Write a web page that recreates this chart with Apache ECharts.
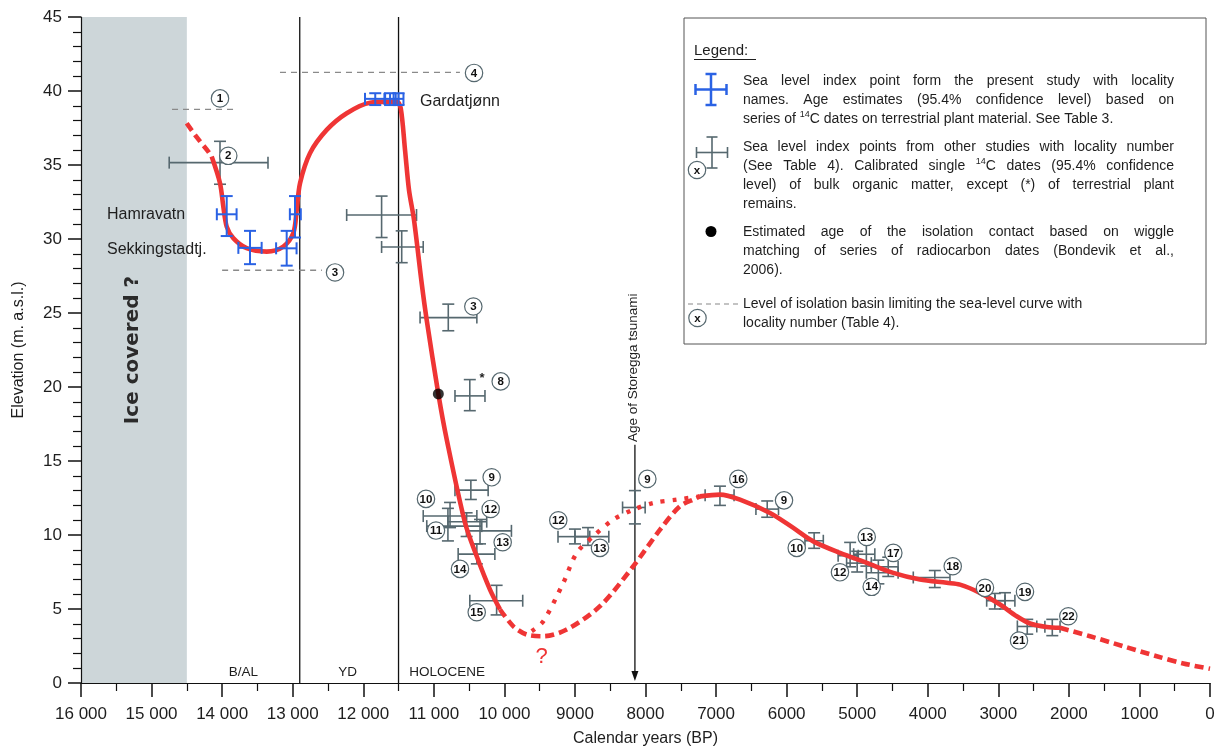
<!DOCTYPE html>
<html>
<head>
<meta charset="utf-8">
<title>Relative sea-level curve</title>
<script src="https://cdn.jsdelivr.net/npm/echarts@6.0.0/dist/echarts.min.js"></script>
<style>
html,body{margin:0;padding:0;background:#fff;}
#chart{width:1223px;height:752px;}
</style>
</head>
<body>
<div id="chart"></div>
<script>
// Axis ranges: calendar years BP (reversed) and elevation in m a.s.l.
const ageRange = [0, 16000];
const ageStep = 1000;
const elevRange = [0, 45];
const elevStep = 5;

// Chronozones
const iceCoveredAges = [16000, 14500];
const zoneBoundaries = [12900, 11500];
const zoneNames = ['B/AL', 'YD', 'HOLOCENE'];
const zoneNameAges = [13700, 12220, 10810];
const zoneNameElev = 0.75;

// Storegga tsunami marker
const storeggaAge = 8150;
const storeggaArrowTop = 16.1;

// Sea-level curve segments [age, elevation]
const curveStartDashed = [[14502,37.82],[14360,36.88],[14196,35.91],[14148,35.57]];
const curveLateglacial = [[14148,35.57],[14030,33.77],[13983,32.19],[13935,30.84],[13842,30.06],[13652,29.38],[13368,29.15],[13133,29.49],[12991,30.40],[12943,31.97],[12896,33.77],[12755,35.8],[12518,37.37],[12234,38.5],[11904,39.21],[11526,39.28],[11469,38.84],[11408,36.02],[11352,33.32],[11281,31.3],[11172,27.02],[11101,24.54],[10936,19.53],[10817,16.45],[10558,10.83],[10392,8.56],[10204,6.31],[10062,4.97]];
const curveLowstandDashed = [[10062,4.97],[9873,3.83],[9683,3.27],[9448,3.16],[9117,3.61],[8645,5.19],[8173,7.89],[7794,10.36],[7511,11.94],[7274,12.5],[7228,12.61]];
const curveLowstandDotted = [[9613,3.5],[9448,4.17],[9165,6.77],[8975,8.79],[8740,9.91],[8456,11.04],[8173,11.71],[7889,12.17],[7558,12.39],[7228,12.61]];
const curveHolocene = [[7228,12.61],[6944,12.73],[6661,12.39],[6235,11.49],[5905,10.48],[5622,9.57],[5243,8.79],[4865,8.12],[4488,7.44],[4110,6.99],[3731,6.77],[3543,6.65],[3259,6.09],[2976,5.3],[2739,4.51],[2551,4.02],[2314,3.79],[2126,3.73]];
const curveRecentDashed = [[2126,3.73],[1700,3.16],[1228,2.48],[755,1.81],[378,1.32],[0,0.96]];

// Index points: [age, elevation, oldest age, youngest age, top, bottom]
const presentStudyPoints = [
  [13935,31.67,14075,13795,32.9,30.2],
  [12967,31.67,13040,12885,32.9,30.1],
  [13605,29.4,13770,13440,30.55,28.3],
  [13085,29.37,13235,12945,30.55,28.2],
  [11830,39.47,11975,11690,39.85,39.05],
  [11620,39.47,11700,11540,39.85,39.05],
  [11500,39.47,11570,11430,39.85,39.05]
];
const otherStudyPoints = [
  [14030,35.16,14750,13350,36.6,33.7],
  [11740,31.62,12235,11245,32.9,30.1],
  [11455,29.46,11740,11150,30.55,28.4],
  [10795,24.69,11195,10390,25.6,23.8],
  [10490,19.4,10700,10275,20.5,18.4],
  [10475,13.03,10700,10230,13.7,12.4],
  [10770,11.28,11150,10390,12.2,10.5],
  [10800,10.6,11100,10320,11.8,9.6],
  [10535,10.9,10800,10250,11.5,9.9],
  [10345,10.28,10535,9900,11.05,9.4],
  [10390,8.71,10655,10135,9.4,8.05],
  [10110,5.56,10490,9740,6.6,4.6],
  [9000,9.89,9240,8790,10.4,9.4],
  [8815,9.89,9000,8520,10.5,9.3],
  [8150,11.86,8325,8005,13.0,10.75],
  [6945,12.69,7155,6745,13.3,12.0],
  [6275,11.75,6435,6115,12.3,11.2],
  [5610,9.61,5740,5480,10.15,9.1],
  [5100,8.6,5270,4985,9.5,7.85],
  [4870,8.7,5050,4750,9.5,7.9],
  [5000,8.1,5150,4800,8.9,7.5],
  [4560,7.85,4800,4420,8.5,7.2],
  [4700,7.45,4870,4420,8.3,6.7],
  [3900,7.13,4205,3685,7.6,6.45],
  [3050,5.56,3165,2905,6.05,5.0],
  [2905,5.56,3045,2765,6.1,5.0],
  [2590,3.82,2730,2455,4.3,3.3],
  [2235,3.8,2340,2125,4.3,3.2]
];

// Wiggle-matched isolation contact
const isolationContact = [[10936, 19.53]];

// Isolation basin thresholds: [oldest age, youngest age, elevation]
const basinLevels = [[14710,13800,38.76],[14000,12585,27.89],[13180,10630,41.26]];

// Locality numbers: [age, elevation, number]
const localityTags = [
  [14030,39.5,'1'],[13913,35.62,'2'],[12400,27.74,'3'],[10430,41.22,'4'],
  [10440,25.44,'3'],[10052,20.38,'8'],[10180,13.9,'9'],[11111,12.44,'10'],
  [10969,10.3,'11'],[10194,11.76,'12'],[10024,9.51,'13'],[10629,7.71,'14'],
  [10392,4.78,'15'],[9236,10.99,'12'],[8645,9.13,'13'],[7974,13.79,'9'],
  [6685,13.79,'16'],[6037,12.34,'9'],[5857,9.13,'10'],[4865,9.87,'13'],
  [5244,7.48,'12'],[4488,8.79,'17'],[4794,6.5,'14'],[3646,7.89,'18'],
  [3189,6.43,'20'],[2622,6.16,'19'],[2707,2.87,'21'],[2008,4.51,'22']
];

// Site names: [name, age, elevation]
const siteNames = [['Hamravatn',15632,31.63],['Sekkingstadtj.',15632,29.27],['Gardatjønn',11196,39.26]];
const terrestrialMarks = [[10317,20.6]];
const uncertainMark = [[9472,1.73]];
const iceLabelPos = [15263, 22.5];
const storeggaLabelPos = [8180, 21.3];

// ---------------------------------------------------------------
const RED = '#ef3535';
const BLUE = '#2a62e4';
const GREY = '#56686f';
const INK = '#1e1e1e';
const SANS = '"Liberation Sans", Arial, Helvetica, sans-serif';

function crossRenderer(color, width, cap) {
  return function (params, api) {
    const x = api.value(0), y = api.value(1);
    const c = api.coord([x, y]);
    const l = api.coord([api.value(2), y]);
    const r = api.coord([api.value(3), y]);
    const t = api.coord([x, api.value(4)]);
    const b = api.coord([x, api.value(5)]);
    const st = { stroke: color, lineWidth: width, fill: null };
    const h = cap / 2;
    const seg = (x1, y1, x2, y2) => ({ type: 'line', shape: { x1, y1, x2, y2 }, style: st });
    return {
      type: 'group',
      children: [
        seg(l[0], c[1], r[0], c[1]),
        seg(l[0], c[1] - h, l[0], c[1] + h),
        seg(r[0], c[1] - h, r[0], c[1] + h),
        seg(c[0], t[1], c[0], b[1]),
        seg(c[0] - h, t[1], c[0] + h, t[1]),
        seg(c[0] - h, b[1], c[0] + h, b[1])
      ]
    };
  };
}

function textEl(text, x, y, font, fill, align, valign, rotation) {
  return {
    type: 'text', x: x, y: y, rotation: rotation || 0,
    style: {
      text: text, font: font, fill: fill || INK,
      textAlign: align || 'left', textVerticalAlign: valign || 'middle',
      align: align || 'left', verticalAlign: valign || 'middle'
    }
  };
}

function tagEl(cx, cy, label) {
  return {
    type: 'group',
    children: [
      { type: 'circle', shape: { cx: cx, cy: cy, r: 8.7 }, style: { fill: '#fff', stroke: GREY, lineWidth: 1.2 } },
      textEl(label, cx, cy + 0.5, 'bold 11.5px ' + SANS, '#111', 'center', 'middle')
    ]
  };
}

// ---------------- legend (justified text block) ----------------
const measureCtx = document.createElement('canvas').getContext('2d');
const legendFont = '14px ' + SANS;
const supFont = '9px ' + SANS;
const textLeft = 743, textRight = 1174;

function wordWidth(w) {
  if (w.indexOf('^14') === 0) {
    measureCtx.font = supFont;
    const a = measureCtx.measureText('14').width;
    measureCtx.font = legendFont;
    return a + measureCtx.measureText(w.slice(3)).width;
  }
  measureCtx.font = legendFont;
  return measureCtx.measureText(w).width;
}

function legendLine(str, y, justify) {
  const words = str.split(' ');
  const ws = words.map(wordWidth);
  measureCtx.font = legendFont;
  const space = measureCtx.measureText(' ').width;
  const total = ws.reduce((a, b) => a + b, 0);
  const gap = justify && words.length > 1 ? (textRight - textLeft - total) / (words.length - 1) : space;
  const out = [];
  let x = textLeft;
  words.forEach((w, i) => {
    if (w.indexOf('^14') === 0) {
      measureCtx.font = supFont;
      const sw = measureCtx.measureText('14').width;
      out.push(textEl('14', x, y - 4, supFont, INK));
      out.push(textEl(w.slice(3), x + sw, y, legendFont, INK));
    } else {
      out.push(textEl(w, x, y, legendFont, INK));
    }
    x += ws[i] + gap;
  });
  return out;
}

const legendLines = [
  ['Sea level index point form the present study with locality', 81, true],
  ['names. Age estimates (95.4% confidence level) based on', 100, true],
  ['series of ^14C dates on terrestrial plant material. See Table 3.', 119, false],
  ['Sea level index points from other studies with locality number', 147, true],
  ['(See Table 4). Calibrated single ^14C dates (95.4% confidence', 166, true],
  ['level) of bulk organic matter, except (*) of terrestrial plant', 185, true],
  ['remains.', 204, false],
  ['Estimated age of the isolation contact based on wiggle', 232, true],
  ['matching of series of radiocarbon dates (Bondevik et al.,', 251, true],
  ['2006).', 270, false],
  ['Level of isolation basin limiting the sea-level curve with', 304, false],
  ['locality number (Table 4).', 323, false]
];

function iconCross(cx, cy, color, width, half, cap) {
  const st = { stroke: color, lineWidth: width };
  const s = (x1, y1, x2, y2) => ({ type: 'line', shape: { x1, y1, x2, y2 }, style: st });
  const h = cap / 2;
  return [
    s(cx - half, cy, cx + half, cy), s(cx - half, cy - h, cx - half, cy + h), s(cx + half, cy - h, cx + half, cy + h),
    s(cx, cy - half, cx, cy + half), s(cx - h, cy - half, cx + h, cy - half), s(cx - h, cy + half, cx + h, cy + half)
  ];
}

let legendChildren = [
  { type: 'rect', shape: { x: 684, y: 18, width: 522, height: 326 }, style: { fill: '#fff', stroke: '#555', lineWidth: 1 } },
  textEl('Legend:', 694, 51, '15px ' + SANS, INK),
  { type: 'line', shape: { x1: 694, y1: 59.5, x2: 756, y2: 59.5 }, style: { stroke: INK, lineWidth: 1 } }
];
legendChildren = legendChildren
  .concat(iconCross(711, 89.5, BLUE, 2.5, 15.5, 11))
  .concat(iconCross(712, 152.5, GREY, 1.6, 15.5, 11))
  .concat([tagEl(697, 170, 'x')])
  .concat([{ type: 'circle', shape: { cx: 711, cy: 231.5, r: 5.5 }, style: { fill: '#000' } }])
  .concat([{ type: 'line', shape: { x1: 688, y1: 304, x2: 738, y2: 304 }, style: { stroke: '#888', lineWidth: 1.2, lineDash: [5, 4] } }])
  .concat([tagEl(697.5, 318, 'x')]);
legendLines.forEach(l => { legendChildren = legendChildren.concat(legendLine(l[0], l[1], l[2])); });

// ---------------- chart ----------------
const chart = echarts.init(document.getElementById('chart'), null, { renderer: 'canvas' });

const redLine = (data, type, width) => ({
  type: 'line', data: data, symbol: 'none', smooth: 0.3, z: 6, silent: true,
  lineStyle: { color: RED, width: width, type: type, cap: 'butt', join: 'round' }
});

const option = {
  animation: false,
  backgroundColor: '#fff',
  grid: { left: 81, right: 13, top: 17, bottom: 68.5, containLabel: false },
  xAxis: {
    type: 'value', min: ageRange[0], max: ageRange[1], interval: ageStep, inverse: true, z: 8,
    name: 'Calendar years (BP)', nameLocation: 'middle', nameGap: 48,
    nameTextStyle: { fontSize: 16, color: INK, fontFamily: SANS },
    axisLine: { onZero: false, lineStyle: { color: '#111', width: 1.2 } },
    axisTick: { length: 14, lineStyle: { color: '#111', width: 1.5 } },
    minorTick: { show: true, splitNumber: 2, length: 8, lineStyle: { color: '#111', width: 1.2 } },
    splitLine: { show: false },
    axisLabel: {
      fontSize: 17, color: INK, fontFamily: SANS, margin: 23,
      formatter: v => (v >= 10000 ? (v / 1000) + ' 000' : String(v))
    }
  },
  yAxis: {
    type: 'value', min: elevRange[0], max: elevRange[1], interval: elevStep, z: 8,
    name: 'Elevation (m. a.s.l.)', nameLocation: 'middle', nameGap: 54,
    nameTextStyle: { fontSize: 16, color: INK, fontFamily: SANS },
    axisLine: { onZero: false, lineStyle: { color: '#111', width: 1.2 } },
    axisTick: { length: 13, lineStyle: { color: '#111', width: 1.5 } },
    minorTick: { show: true, splitNumber: 5, length: 8, lineStyle: { color: '#111', width: 1.2 } },
    splitLine: { show: false },
    axisLabel: { fontSize: 17, color: INK, fontFamily: SANS, margin: 19 }
  },
  graphic: [{ type: 'group', z: 20, children: legendChildren }],
  series: [
    // ice-covered interval
    {
      type: 'custom', z: 1, silent: true, data: [iceCoveredAges],
      renderItem: (params, api) => {
        const a = api.coord([api.value(0), elevRange[1]]);
        const b = api.coord([api.value(1), elevRange[0]]);
        return { type: 'rect', shape: { x: a[0], y: a[1], width: b[0] - a[0], height: b[1] - a[1] }, style: { fill: '#cdd6d9' } };
      }
    },
    // chronozone boundaries
    {
      type: 'custom', z: 2, silent: true, data: zoneBoundaries.map(v => [v]),
      renderItem: (params, api) => {
        const a = api.coord([api.value(0), elevRange[1]]);
        const b = api.coord([api.value(0), elevRange[0]]);
        return { type: 'line', shape: { x1: a[0], y1: a[1], x2: b[0], y2: b[1] }, style: { stroke: '#111', lineWidth: 1.3 } };
      }
    },
    // chronozone names
    {
      type: 'custom', z: 3, silent: true, data: zoneNameAges.map(v => [v, zoneNameElev]),
      renderItem: (params, api) => {
        const p = api.coord([api.value(0), api.value(1)]);
        return textEl(zoneNames[params.dataIndex], p[0], p[1], '13.5px ' + SANS, INK, 'center', 'middle');
      }
    },
    // isolation basin thresholds
    {
      type: 'custom', z: 3, silent: true, data: basinLevels,
      renderItem: (params, api) => {
        const a = api.coord([api.value(0), api.value(2)]);
        const b = api.coord([api.value(1), api.value(2)]);
        return { type: 'line', shape: { x1: a[0], y1: a[1], x2: b[0], y2: b[1] }, style: { stroke: '#8a8a8a', lineWidth: 1.3, lineDash: [6, 5] } };
      }
    },
    // Storegga arrow
    {
      type: 'custom', z: 3, silent: true, data: [[storeggaAge, storeggaArrowTop, 0]],
      renderItem: (params, api) => {
        const t = api.coord([api.value(0), api.value(1)]);
        const b = api.coord([api.value(0), api.value(2)]);
        return {
          type: 'group', children: [
            { type: 'line', shape: { x1: t[0], y1: t[1], x2: b[0], y2: b[1] - 6 }, style: { stroke: '#111', lineWidth: 1.3 } },
            { type: 'polygon', shape: { points: [[b[0], b[1] - 2], [b[0] - 3.5, b[1] - 12], [b[0] + 3.5, b[1] - 12]] }, style: { fill: '#111' } }
          ]
        };
      }
    },
    // index points from other studies
    { type: 'custom', z: 4, silent: true, data: otherStudyPoints, renderItem: crossRenderer(GREY, 1.6, 12) },
    // sea-level curve
    redLine(curveStartDashed, [9, 5], 4.6),
    redLine(curveLateglacial, 'solid', 4.6),
    redLine(curveLowstandDashed, [9, 5], 4.6),
    redLine(curveLowstandDotted, [4, 8], 4.4),
    redLine(curveHolocene, 'solid', 4.6),
    redLine(curveRecentDashed, [9, 5], 4.6),
    // present-study index points
    { type: 'custom', z: 7, silent: true, data: presentStudyPoints, renderItem: crossRenderer(BLUE, 2, 12) },
    // isolation contact
    { type: 'scatter', z: 8, silent: true, data: isolationContact, symbol: 'circle', symbolSize: 11, itemStyle: { color: '#000' } },
    // locality numbers
    {
      type: 'custom', z: 9, silent: true, data: localityTags.map(d => [d[0], d[1]]),
      renderItem: (params, api) => {
        const p = api.coord([api.value(0), api.value(1)]);
        return tagEl(p[0], p[1], localityTags[params.dataIndex][2]);
      }
    },
    // site names
    {
      type: 'custom', z: 9, silent: true, data: siteNames.map(d => [d[1], d[2]]),
      renderItem: (params, api) => {
        const p = api.coord([api.value(0), api.value(1)]);
        return textEl(siteNames[params.dataIndex][0], p[0], p[1], '16px ' + SANS, INK, 'left', 'middle');
      }
    },
    // terrestrial-plant asterisk
    {
      type: 'custom', z: 9, silent: true, data: terrestrialMarks,
      renderItem: (params, api) => {
        const p = api.coord([api.value(0), api.value(1)]);
        return textEl('*', p[0], p[1], 'bold 13px ' + SANS, INK, 'center', 'middle');
      }
    },
    // uncertain lowstand
    {
      type: 'custom', z: 9, silent: true, data: uncertainMark,
      renderItem: (params, api) => {
        const p = api.coord([api.value(0), api.value(1)]);
        return textEl('?', p[0], p[1], '22px ' + SANS, RED, 'center', 'middle');
      }
    },
    // rotated labels
    {
      type: 'custom', z: 9, silent: true, data: [iceLabelPos, storeggaLabelPos],
      renderItem: (params, api) => {
        const p = api.coord([api.value(0), api.value(1)]);
        if (params.dataIndex === 0) {
          return textEl('Ice covered ?', p[0], p[1], 'bold 20px "DejaVu Sans", sans-serif', '#2b2b2b', 'center', 'middle', Math.PI / 2);
        }
        return textEl('Age of Storegga tsunami', p[0], p[1], '13.5px ' + SANS, INK, 'center', 'middle', Math.PI / 2);
      }
    }
  ]
};

chart.setOption(option);
</script>
</body>
</html>
